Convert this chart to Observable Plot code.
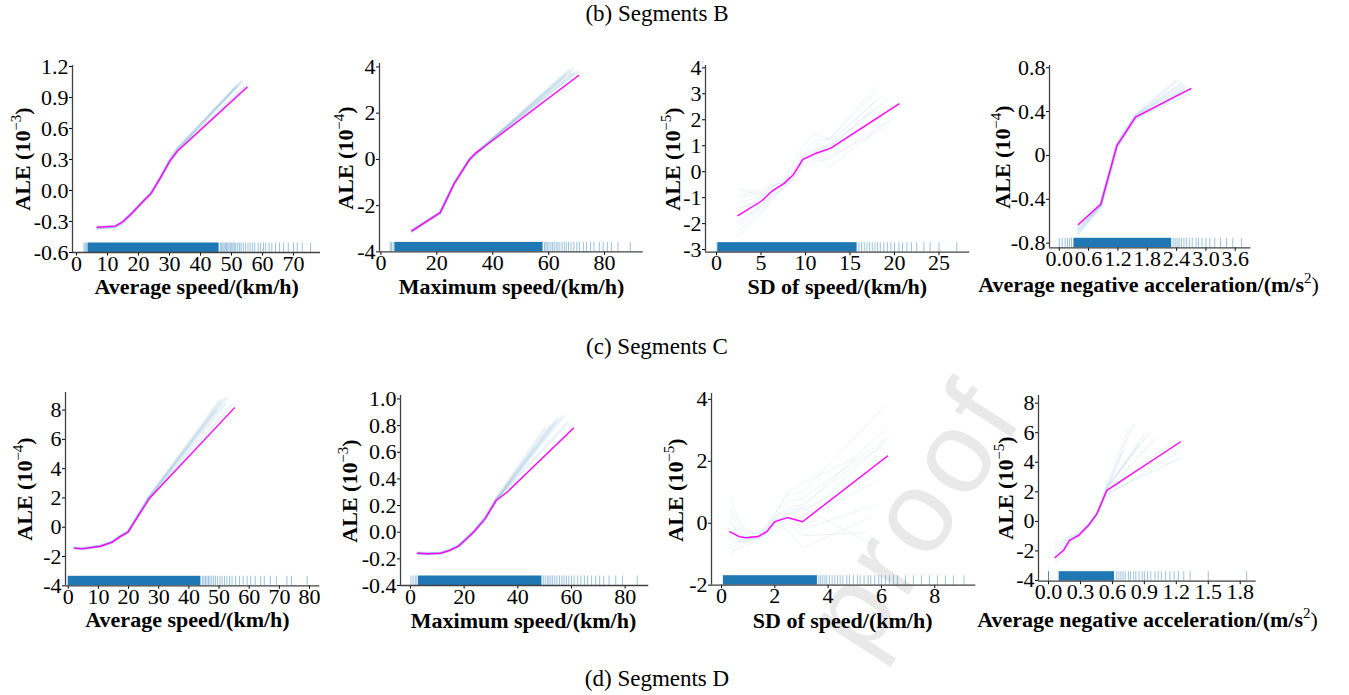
<!DOCTYPE html>
<html><head><meta charset="utf-8">
<script src="https://cdn.jsdelivr.net/npm/d3@7"></script>
<script src="https://cdn.jsdelivr.net/npm/@observablehq/plot@0.6"></script>
<style>
html,body{margin:0;padding:0;background:#fff;}
#fig{position:relative;width:1349px;height:695px;overflow:hidden;font-family:'Liberation Serif','Times New Roman',serif;}
.panel{position:absolute;}
#overlay{position:absolute;left:0;top:0;}
</style></head><body><div id="fig"></div>
<script>
// ---------- text ----------
const figTitles = ["(b) Segments B", "(c) Segments C", "(d) Segments D"];
const xTitles = ["Average speed/(km/h)", "Maximum speed/(km/h)", "SD of speed/(km/h)", "Average negative acceleration/(m/s",
                 "Average speed/(km/h)", "Maximum speed/(km/h)", "SD of speed/(km/h)", "Average negative acceleration/(m/s"];
const xTitleSup = [null, null, null, "2", null, null, null, "2"];
const yTitleExp = ["\u22123", "\u22124", "\u22125", "\u22124", "\u22124", "\u22123", "\u22125", "\u22125"];

// ---------- ticks ----------
const p1XTicks = [0,10,20,30,40,50,60,70], p1XLabels = ["0","10","20","30","40","50","60","70"];
const p1YTicks = [-0.6,-0.3,0,0.3,0.6,0.9,1.2], p1YLabels = ["-0.6","-0.3","0.0","0.3","0.6","0.9","1.2"];
const p2XTicks = [0,20,40,60,80], p2XLabels = ["0","20","40","60","80"];
const p2YTicks = [-4,-2,0,2,4], p2YLabels = ["-4","-2","0","2","4"];
const p3XTicks = [0,5,10,15,20,25], p3XLabels = ["0","5","10","15","20","25"];
const p3YTicks = [-3,-2,-1,0,1,2,3,4], p3YLabels = ["-3","-2","-1","0","1","2","3","4"];
const p4XTicks = [0,0.6,1.2,1.8,2.4,3.0,3.6], p4XLabels = ["0.0","0.6","1.2","1.8","2.4","3.0","3.6"];
const p4YTicks = [-0.8,-0.4,0,0.4,0.8], p4YLabels = ["-0.8","-0.4","0","0.4","0.8"];
const p5XTicks = [0,10,20,30,40,50,60,70,80], p5XLabels = ["0","10","20","30","40","50","60","70","80"];
const p5YTicks = [-4,-2,0,2,4,6,8], p5YLabels = ["-4","-2","0","2","4","6","8"];
const p6XTicks = [0,20,40,60,80], p6XLabels = ["0","20","40","60","80"];
const p6YTicks = [-0.4,-0.2,0,0.2,0.4,0.6,0.8,1.0], p6YLabels = ["-0.4","-0.2","0.0","0.2","0.4","0.6","0.8","1.0"];
const p7XTicks = [0,2,4,6,8], p7XLabels = ["0","2","4","6","8"];
const p7YTicks = [-2,0,2,4], p7YLabels = ["-2","0","2","4"];
const p8XTicks = [0,0.3,0.6,0.9,1.2,1.5,1.8], p8XLabels = ["0.0","0.3","0.6","0.9","1.2","1.5","1.8"];
const p8YTicks = [-4,-2,0,2,4,6,8], p8YLabels = ["-4","-2","0","2","4","6","8"];

// ---------- main ALE curves ----------
const p1Main = [[6.7,-0.355],[12.5,-0.345],[15,-0.30],[18,-0.215],[21,-0.12],[24,-0.03],[27,0.12],[30,0.28],[32.5,0.38],[55,1.0]];
const p2Main = [[11.1,-3.09],[21.2,-2.30],[26.2,-1.05],[31.7,0.0],[33.8,0.27],[36.1,0.47],[70.7,3.63]];
const p3Main = [[2.4,-1.69],[5.1,-1.12],[6.15,-0.77],[7.6,-0.45],[8.6,-0.13],[9.7,0.47],[11.1,0.70],[12.8,0.90],[20.5,2.61]];
const p4Main = [[0.39,-0.63],[0.85,-0.445],[1.18,0.09],[1.56,0.35],[2.69,0.61]];
const p5Main = [[2.1,-1.43],[4.6,-1.48],[10.7,-1.30],[14.6,-1.02],[17.2,-0.64],[19.8,-0.34],[26.8,1.94],[55.1,8.15]];
const p6Main = [[2.7,-0.158],[6.2,-0.162],[11.2,-0.158],[14.6,-0.137],[17.9,-0.105],[23.5,0.0],[27.8,0.10],[32.0,0.24],[36,0.30],[60.7,0.78]];
const p7Main = [[0.31,-0.27],[0.66,-0.43],[0.91,-0.47],[1.37,-0.43],[1.70,-0.27],[2.0,0.05],[2.48,0.18],[3.04,0.05],[6.23,2.17]];
const p8Main = [[0.063,-2.45],[0.141,-1.96],[0.197,-1.29],[0.282,-0.95],[0.376,-0.27],[0.454,0.51],[0.548,2.10],[1.237,5.37]];

// ---------- bootstrap curves: shared head x-grid, y values, own end point ----------
const p1BootX = [6.7,12.5,15,18,21,24,27,30,32.5];
const p1Boot = [
  [-0.36,-0.35,-0.31,-0.22,-0.12,-0.03,0.12,0.28,0.39],
  [-0.37,-0.355,-0.30,-0.21,-0.11,-0.02,0.13,0.29,0.40],
  [-0.35,-0.34,-0.30,-0.22,-0.13,-0.04,0.11,0.27,0.38],
  [-0.36,-0.35,-0.31,-0.22,-0.12,-0.03,0.12,0.29,0.40],
  [-0.37,-0.36,-0.31,-0.21,-0.11,-0.02,0.13,0.30,0.41],
  [-0.36,-0.345,-0.30,-0.22,-0.12,-0.03,0.12,0.28,0.39]];
const p1BootEnd = [[52,1.02],[53,1.05],[54.5,1.0],[51,0.99],[53.5,1.06],[55,1.03]];

const p2BootX = [11.1,21.2,26.2,31.7,36.1];
const p2Boot = [
  [-3.1,-2.32,-1.05,0.0,0.48],
  [-3.05,-2.28,-1.0,0.02,0.5],
  [-3.12,-2.33,-1.08,-0.02,0.46],
  [-3.08,-2.3,-1.04,0.0,0.47],
  [-3.1,-2.31,-1.06,0.01,0.49],
  [-3.07,-2.29,-1.03,0.0,0.48]];
const p2BootEnd = [[68,3.75],[67,3.85],[69,3.7],[66,3.65],[68.5,3.9],[70,3.8]];

const p3BootX = [2.4,5.1,6.15,7.6,8.6,9.7,11.1,12.8];
const p3Boot = [
  [-0.65,-0.9,-0.6,-0.3,0.0,0.6,1.0,1.3],
  [-2.5,-1.6,-1.1,-0.6,-0.3,0.3,0.5,0.6],
  [-1.2,-0.95,-0.7,-0.5,-0.2,0.4,0.8,1.1],
  [-2.1,-1.4,-0.9,-0.55,-0.15,0.5,0.6,0.2],
  [-1.5,-1.0,-0.6,-0.35,0.05,0.7,1.2,1.3],
  [-1.9,-1.3,-0.85,-0.5,-0.25,0.45,0.65,0.85],
  [-1.0,-0.8,-0.55,-0.4,-0.1,0.35,0.75,1.0],
  [-2.3,-1.5,-1.0,-0.6,-0.2,0.55,0.7,0.8],
  [-1.4,-1.1,-0.8,-0.45,-0.1,0.5,0.9,1.0],
  [-1.7,-1.2,-0.75,-0.4,-0.05,0.6,0.8,0.95],
  [-0.9,-0.7,-0.5,-0.2,0.3,1.0,1.5,1.2],
  [-2.0,-1.3,-0.95,-0.65,-0.3,0.2,0.4,0.5]];
const p3BootEnd = [[18,3.3],[19,1.7],[18.5,2.9],[19.5,2.0],[18,3.1],[20,2.6],[17.5,2.4],[18.8,2.2],[19.2,2.8],[18.2,2.5],[17.8,2.7],[19,1.9]];

const p4BootX = [0.39,0.85,1.18,1.56];
const p4Boot = [
  [-0.66,-0.45,0.1,0.36],
  [-0.72,-0.46,0.08,0.35],
  [-0.6,-0.43,0.11,0.37],
  [-0.68,-0.44,0.09,0.34],
  [-0.64,-0.45,0.1,0.36],
  [-0.7,-0.47,0.07,0.33]];
const p4BootEnd = [[2.5,0.66],[2.6,0.62],[2.4,0.68],[2.65,0.56],[2.55,0.64],[2.5,0.58]];

const p5BootX = [2.1,4.6,10.7,14.6,17.2,19.8,26.8];
const p5Boot = [
  [-1.4,-1.45,-1.28,-1.0,-0.62,-0.3,2.05],
  [-1.38,-1.43,-1.25,-0.98,-0.6,-0.28,2.1],
  [-1.45,-1.5,-1.32,-1.04,-0.66,-0.36,1.9],
  [-1.42,-1.46,-1.29,-1.01,-0.63,-0.33,2.0],
  [-1.4,-1.44,-1.27,-0.99,-0.61,-0.31,2.08],
  [-1.44,-1.49,-1.31,-1.03,-0.65,-0.35,1.95]];
const p5BootEnd = [[51,8.7],[50,8.6],[52,8.4],[49,8.0],[52.5,8.85],[54,8.3]];

const p6BootX = [2.7,6.2,11.2,14.6,17.9,23.5,27.8,32.0];
const p6Boot = [
  [-0.155,-0.16,-0.155,-0.135,-0.1,0.005,0.11,0.25],
  [-0.16,-0.165,-0.16,-0.14,-0.105,0.0,0.1,0.24],
  [-0.15,-0.155,-0.152,-0.132,-0.1,0.008,0.115,0.255],
  [-0.162,-0.166,-0.162,-0.14,-0.11,-0.004,0.095,0.235],
  [-0.156,-0.16,-0.156,-0.136,-0.103,0.002,0.105,0.245],
  [-0.158,-0.163,-0.158,-0.138,-0.106,0.0,0.1,0.24]];
const p6BootEnd = [[52,0.8],[55,0.85],[50,0.78],[57,0.87],[54,0.83],[58.5,0.82]];

const p7BootX = [0.31,0.66,0.91,1.37,1.70,2.0,2.48,3.04];
const p7Boot = [
  [0.85,0.1,-0.2,-0.3,-0.1,0.3,0.9,1.0],
  [-1.0,-0.8,-0.7,-0.6,-0.3,0.0,0.3,0.5],
  [0.0,-0.3,-0.4,-0.5,-0.2,0.2,0.4,0.5],
  [-0.5,-0.6,-0.6,-0.5,-0.3,0.1,0.2,-0.2],
  [0.3,-0.2,-0.3,-0.35,-0.15,0.2,0.7,0.8],
  [-0.7,-0.6,-0.55,-0.4,-0.2,0.05,0.0,-0.4],
  [0.1,-0.35,-0.5,-0.45,-0.25,0.15,0.5,0.6],
  [-0.3,-0.5,-0.55,-0.45,-0.2,0.1,0.2,0.1],
  [-0.2,-0.4,-0.45,-0.4,-0.25,0.05,0.3,0.4],
  [-0.8,-0.7,-0.6,-0.5,-0.35,-0.1,-0.2,-0.8],
  [0.5,0.0,-0.25,-0.35,-0.1,0.3,1.0,1.3],
  [-0.4,-0.55,-0.5,-0.5,-0.3,0.0,0.1,0.2]];
const p7BootEnd = [[6.25,3.9],[5.6,-0.65],[6.2,3.1],[5.8,0.6],[6.3,2.8],[5.5,-0.3],[6.0,2.5],[5.9,1.4],[6.3,2.0],[5.6,0.2],[5.0,2.1],[6.1,2.6]];

const p8BootX = [0.063,0.141,0.197,0.282,0.376,0.454,0.548];
const p8Boot = [
  [-1.5,-1.3,-1.0,-0.7,-0.1,0.6,2.3],
  [-2.8,-2.2,-1.5,-1.1,-0.4,0.4,1.9],
  [-2.0,-1.7,-1.2,-0.9,-0.2,0.55,2.2],
  [-2.6,-2.0,-1.4,-1.0,-0.35,0.45,2.0],
  [-1.8,-1.5,-1.1,-0.8,-0.15,0.6,2.5],
  [-2.3,-1.9,-1.3,-0.95,-0.3,0.5,2.1],
  [-2.2,-1.8,-1.25,-0.9,-0.25,0.5,2.15],
  [-2.5,-2.0,-1.35,-1.0,-0.3,0.45,1.8],
  [-1.7,-1.4,-1.1,-0.85,-0.2,0.55,2.4],
  [-2.4,-1.95,-1.3,-0.95,-0.28,0.5,2.1]];
const p8BootEnd = [[0.8,6.6],[1.24,4.3],[0.9,5.9],[1.0,5.6],[0.75,6.2],[1.1,5.0],[0.85,5.2],[1.2,4.6],[0.95,6.0],[0.7,4.8]];

// ---------- rug: dense intervals + individual observations ----------
const p1RugDense = [[3.8,46]];
const p1RugTicks = [2.4,2.8,3.2,3.6,46.4,46.8,47.2,47.6,48,48.4,48.8,49.2,49.7,50.1,50.5,51,51.4,52,52.6,53.1,53.8,54.5,55.3,56,56.8,57.5,58.6,59.4,60.3,61,62.1,63,64.2,65.5,66.8,68.3,70,71.2,72.8,75.5];
const p2RugDense = [[5,58]];
const p2RugTicks = [3.3,3.8,4.4,58.5,59,59.5,60.1,60.8,61.4,62,62.7,63.3,64,64.8,65.6,66.3,67.1,68,69,70.1,71,72.4,73.5,75,76.2,78.1,79.5,81,82.5,84.8,89.2];
const p3RugDense = [[0.15,15.8]];
const p3RugTicks = [0.07,16.0,16.3,16.6,16.9,17.2,17.5,17.8,18.1,18.4,18.8,19.2,19.6,20.0,20.5,20.9,21.4,21.9,22.5,23.3,24.0,25.0,27.0];
const p4RugDense = [[0.3,2.3]];
const p4RugTicks = [0.0,0.06,0.12,0.17,0.21,0.25,2.33,2.37,2.41,2.45,2.5,2.55,2.6,2.66,2.72,2.8,2.85,2.92,3.0,3.08,3.18,3.3,3.42,3.55,3.73];
const p5RugDense = [[0,44]];
const p5RugTicks = [44.5,45,45.5,46,46.5,47,47.6,48.2,48.8,49.5,50.3,51,51.8,52.6,53.5,54.3,55.5,56.8,58,59.3,60.5,62,63.8,65,67,69,72.5,74,79.2];
const p6RugDense = [[3,49]];
const p6RugTicks = [0.2,1.0,1.8,2.4,49.5,50.2,51,51.6,52.3,53,53.8,54.6,55.5,56.4,57.2,58.1,59,60,61,62.3,63.5,64.8,66,67.5,69,70.5,72,74,76.5,79,84.5];
const p7RugDense = [[0.07,3.6]];
const p7RugTicks = [3.65,3.72,3.8,3.88,3.95,4.05,4.15,4.25,4.35,4.45,4.55,4.7,4.8,4.95,5.1,5.2,5.35,5.5,5.6,5.75,5.9,6.0,6.15,6.3,6.45,6.6,6.9,7.2,7.5,7.8,8.1,8.4,8.7,9.1];
const p8RugDense = [[0.1,0.62]];
const p8RugTicks = [0.0,0.0,0.0,0.64,0.66,0.68,0.7,0.72,0.75,0.77,0.8,0.82,0.85,0.88,0.9,0.93,0.96,1.0,1.03,1.06,1.1,1.14,1.18,1.22,1.27,1.33,1.5,1.86];

// ---------- layout (page pixels) and scale domains ----------
const layout = [
  {frame:[72,65,320,252],        xDomain:[-1.3,78.7],   yDomain:[-0.6,1.21],   yLab:[30,159],    xLab:[196.7,293.5]},
  {frame:[379.3,63.3,643,251.7], xDomain:[-0.5,93.8],   yDomain:[-4,4.15],     yLab:[353,158],   xLab:[511.5,293.5]},
  {frame:[705,65,969.3,251.7],   xDomain:[-1.24,28.46], yDomain:[-3.1,4.09],   yLab:[680,159],   xLab:[837.3,293.5]},
  {frame:[1049.3,65,1250.7,247.3], xDomain:[-0.2,3.92], yDomain:[-0.842,0.82], yLab:[1010,157],  xLab:[1148.5,292]},
  {frame:[65,391.7,319.3,585],   xDomain:[-0.9,83.4],   yDomain:[-4,9.2],      yLab:[31.5,489],  xLab:[187.5,627]},
  {frame:[400,395,648.3,585],    xDomain:[-3.7,88.8],   yDomain:[-0.4,1.026],  yLab:[356.5,491], xLab:[523.5,628]},
  {frame:[710.7,393.3,975,585],  xDomain:[-0.375,9.54], yDomain:[-2,4.19],     yLab:[683,490],   xLab:[842.7,628]},
  {frame:[1038.3,395,1256,580.7], xDomain:[-0.094,1.95], yDomain:[-4.05,8.52], yLab:[1013,488],  xLab:[1147.5,626.5]}
];
const titleLayout = [[657,21],[657,354],[657,686]];

const panels = [
  {main:p1Main, bootX:p1BootX, boot:p1Boot, bootEnd:p1BootEnd, rugDense:p1RugDense, rugTicks:p1RugTicks, xT:p1XTicks, xL:p1XLabels, yT:p1YTicks, yL:p1YLabels, bw:2.6},
  {main:p2Main, bootX:p2BootX, boot:p2Boot, bootEnd:p2BootEnd, rugDense:p2RugDense, rugTicks:p2RugTicks, xT:p2XTicks, xL:p2XLabels, yT:p2YTicks, yL:p2YLabels, bw:2.6},
  {main:p3Main, bootX:p3BootX, boot:p3Boot, bootEnd:p3BootEnd, rugDense:p3RugDense, rugTicks:p3RugTicks, xT:p3XTicks, xL:p3XLabels, yT:p3YTicks, yL:p3YLabels, bw:1},
  {main:p4Main, bootX:p4BootX, boot:p4Boot, bootEnd:p4BootEnd, rugDense:p4RugDense, rugTicks:p4RugTicks, xT:p4XTicks, xL:p4XLabels, yT:p4YTicks, yL:p4YLabels, bw:2.6},
  {main:p5Main, bootX:p5BootX, boot:p5Boot, bootEnd:p5BootEnd, rugDense:p5RugDense, rugTicks:p5RugTicks, xT:p5XTicks, xL:p5XLabels, yT:p5YTicks, yL:p5YLabels, bw:2.6},
  {main:p6Main, bootX:p6BootX, boot:p6Boot, bootEnd:p6BootEnd, rugDense:p6RugDense, rugTicks:p6RugTicks, xT:p6XTicks, xL:p6XLabels, yT:p6YTicks, yL:p6YLabels, bw:2.6},
  {main:p7Main, bootX:p7BootX, boot:p7Boot, bootEnd:p7BootEnd, rugDense:p7RugDense, rugTicks:p7RugTicks, xT:p7XTicks, xL:p7XLabels, yT:p7YTicks, yL:p7YLabels, bw:1},
  {main:p8Main, bootX:p8BootX, boot:p8Boot, bootEnd:p8BootEnd, rugDense:p8RugDense, rugTicks:p8RugTicks, xT:p8XTicks, xL:p8XLabels, yT:p8YTicks, yL:p8YLabels, bw:1.2}
];

const fig = document.getElementById("fig");
const serif = "'Liberation Serif','Times New Roman',serif";

// ---------- overlay: watermark, titles, axis titles ----------
let ov = `<svg id="overlay" width="1349" height="695" xmlns="http://www.w3.org/2000/svg" font-family="${serif}">`;
ov += `<text transform="translate(912,515) rotate(-57)" text-anchor="middle" dy="0.35em" font-family="'Liberation Sans',Arial,sans-serif" font-size="116" letter-spacing="6" fill="#e9e9e9">proof</text>`;
figTitles.forEach((t, i) => {
  ov += `<text x="${titleLayout[i][0]}" y="${titleLayout[i][1]}" text-anchor="middle" font-size="23" fill="#000">${t}</text>`;
});
layout.forEach((L, i) => {
  let xt = `<text x="${L.xLab[0]}" y="${L.xLab[1]}" text-anchor="middle" font-size="22" font-weight="bold" fill="#000">${xTitles[i]}`;
  if (xTitleSup[i]) xt += `<tspan dy="-9" font-size="15" font-weight="normal">${xTitleSup[i]}</tspan><tspan dy="9" font-weight="normal">)</tspan>`;
  xt += `</text>`;
  ov += xt;
  ov += `<text transform="translate(${L.yLab[0]},${L.yLab[1]}) rotate(-90)" text-anchor="middle" font-size="22" font-weight="bold" fill="#000">ALE (10<tspan dy="-9" font-size="15" font-weight="normal">${yTitleExp[i]}</tspan><tspan dy="9">)</tspan></text>`;
});
ov += `</svg>`;
fig.insertAdjacentHTML("beforeend", ov);

// ---------- panels ----------
const ML = 60, MR = 16, MT = 10, MB = 34;
panels.forEach((P, i) => {
  const L = layout[i];
  const [x0, y0, x1, y1] = L.frame;
  const w = x1 - x0, h = y1 - y0;
  const ymin = L.yDomain[0];
  const rugH = (L.yDomain[1] - L.yDomain[0]) * 9.5 / h;
  const bootPts = [];
  P.boot.forEach((ys, k) => {
    ys.forEach((y, j) => bootPts.push({x: P.bootX[j], y, id: k}));
    bootPts.push({x: P.bootEnd[k][0], y: P.bootEnd[k][1], id: k});
  });
  const chart = Plot.plot({
    width: w + ML + MR, height: h + MT + MB,
    marginLeft: ML, marginRight: MR, marginTop: MT, marginBottom: MB,
    style: {background: "transparent", overflow: "visible", color: "#000"},
    x: {domain: L.xDomain, ticks: P.xT, tickFormat: d => P.xL[P.xT.indexOf(d)], tickSize: 3.5, tickPadding: -1, label: null},
    y: {domain: L.yDomain, ticks: P.yT, tickFormat: d => P.yL[P.yT.indexOf(d)], tickSize: 3, tickPadding: 1, label: null},
    marks: [
      Plot.rect(P.rugDense, {x1: d => d[0], x2: d => d[1], y1: ymin, y2: ymin + rugH, fill: "#1f77b4"}),
      Plot.ruleX(P.rugTicks, {x: d => d, y1: ymin, y2: ymin + rugH, stroke: "#1f77b4", strokeOpacity: 0.45, strokeWidth: 1}),
      Plot.line(bootPts, {x: "x", y: "y", z: "id", stroke: "#1f77b4", strokeOpacity: 0.09, strokeWidth: P.bw}),
      Plot.line(P.main, {x: d => d[0], y: d => d[1], stroke: "#ff00ff", strokeWidth: 1.4}),
      Plot.ruleX([L.xDomain[0]], {stroke: "#404040", strokeWidth: 1.3}),
      Plot.ruleY([L.yDomain[0]], {stroke: "#404040", strokeWidth: 1.3})
    ]
  });
  chart.querySelectorAll("text").forEach(t => {
    t.style.fontFamily = serif;
    t.style.fontSize = "22px";
    t.style.fill = "#000";
  });
  const div = document.createElement("div");
  div.className = "panel";
  div.style.left = (x0 - ML) + "px";
  div.style.top = (y0 - MT) + "px";
  div.appendChild(chart);
  fig.appendChild(div);
});
</script></body></html>
